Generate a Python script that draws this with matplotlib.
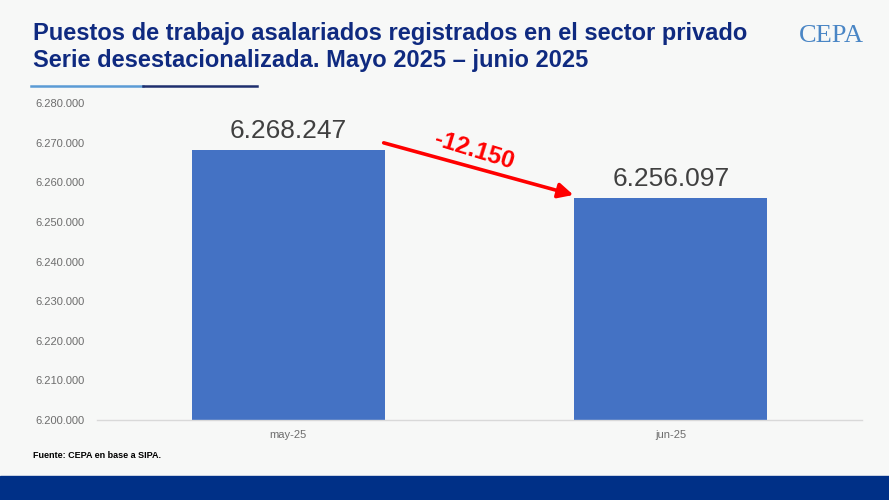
import matplotlib.pyplot as plt
from matplotlib.lines import Line2D
from matplotlib.patches import Rectangle

plt.rcParams['font.family'] = ['Liberation Sans', 'DejaVu Sans']

# datos
categorias = ['may-25', 'jun-25']
valores = [6268247, 6256097]
ticks_y = [6200000, 6210000, 6220000, 6230000, 6240000, 6250000, 6260000, 6270000, 6280000]


def fmt(v):
    return f"{v:,.0f}".replace(',', '.')


fondo = '#f7f8f7'
azul_barra = '#4472c4'
azul_titulo = '#0f2a80'

fig = plt.figure(figsize=(8.89, 5), dpi=100, facecolor=fondo)
ax = fig.add_axes([97 / 889, (500 - 420) / 500, (862 - 97) / 889, (420 - 103) / 500])
ax.set_facecolor(fondo)

ancho = 0.505
x = range(len(categorias))
ax.bar(x, valores, width=ancho, color=azul_barra, zorder=2)
ax.set_xlim(-0.5, 1.5)
ax.set_ylim(ticks_y[0], ticks_y[-1])
ax.set_yticks(ticks_y)
ax.set_yticklabels([fmt(t) for t in ticks_y])
ax.set_xticks(list(x))
ax.set_xticklabels(categorias)
ax.tick_params(axis='both', length=0, colors='#6d6d6d', labelsize=8)
ax.tick_params(axis='y', pad=9)
ax.tick_params(axis='x', pad=7)
for s in ['top', 'right', 'left']:
    ax.spines[s].set_visible(False)
ax.spines['bottom'].set_color('#d9d9d9')
ax.spines['bottom'].set_linewidth(1)

# etiquetas de valores
for xi, v in zip(x, valores):
    ax.annotate(fmt(v), (xi, v), xytext=(0, 5), textcoords='offset points',
                ha='center', va='bottom', fontsize=19, color='#404040')

# flecha de variacion
dif = valores[1] - valores[0]
ax.annotate('', xy=(1 - ancho / 2 - 0.002, valores[1] + 700),
            xytext=(ancho / 2 - 0.003, valores[0] + 1700),
            arrowprops=dict(arrowstyle='-|>,head_length=0.9,head_width=0.45',
                            color='#ff0000', lw=2.6, shrinkA=0, shrinkB=0))
ax.text(0.485, valores[0] - 300, fmt(dif), color='#ff0000', fontsize=17.5,
        fontweight='bold', rotation=-17, ha='center', va='center')

# titulo
fig.text(33 / 889, 1 - 33 / 500, 'Puestos de trabajo asalariados registrados en el sector privado',
         fontsize=17, fontweight='bold', color=azul_titulo, va='center', ha='left')
fig.text(33 / 889, 1 - 60 / 500, 'Serie desestacionalizada. Mayo 2025 \u2013 junio 2025',
         fontsize=17, fontweight='bold', color=azul_titulo, va='center', ha='left')
fig.add_artist(Line2D([31 / 889, 143 / 889], [1 - 86 / 500] * 2, color='#5b9bd5', lw=1.8))
fig.add_artist(Line2D([143 / 889, 257 / 889], [1 - 86 / 500] * 2, color='#1f2f6e', lw=1.8))

# logo
fig.text(831 / 889, 1 - 36 / 500, 'CEPA', family='Liberation Serif', fontsize=19,
         color='#4a86c5', ha='center', va='center')

# fuente
fig.text(33 / 889, 1 - 456 / 500, 'Fuente: CEPA en base a SIPA.', fontsize=6.5,
         fontweight='bold', color='black', va='center', ha='left')

# banda inferior
fig.add_artist(Rectangle((0, 0), 1, 24 / 500, transform=fig.transFigure,
                         color='#003087', zorder=0))

fig.savefig('out.png', dpi=100, facecolor=fondo)
